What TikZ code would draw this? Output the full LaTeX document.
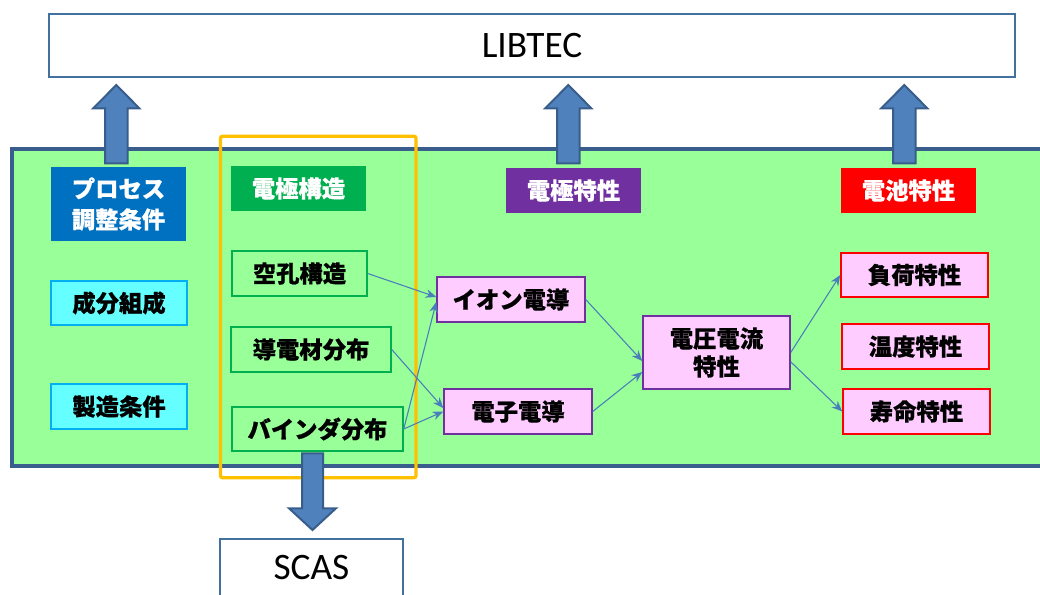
\documentclass[tikz,border=0pt]{standalone}
\usepackage{fontspec}
\setmainfont{Carlito}
\newfontfamily\jp{Noto Sans CJK JP}[BoldFeatures={FakeBold=0.6}]
\usetikzlibrary{arrows.meta}
\definecolor{panelg}{HTML}{99FF99}
\definecolor{panelb}{HTML}{395E8D}
\definecolor{boxb}{HTML}{41719C}
\definecolor{arrfill}{HTML}{4F81BD}
\definecolor{arrdraw}{HTML}{385D8A}
\definecolor{orng}{HTML}{FFC000}
\definecolor{cyanf}{HTML}{66FFFF}
\definecolor{cyand}{HTML}{00B0F0}
\definecolor{gdraw}{HTML}{00B050}
\definecolor{pinkf}{HTML}{FFCCFF}
\definecolor{purp}{HTML}{7030A0}
\definecolor{hblue}{HTML}{0070C0}
\definecolor{thin}{HTML}{4A7EBB}
\begin{document}
\begin{tikzpicture}[x=0.75pt,y=-0.75pt,
  sz/.style 2 args={minimum width=#1*0.75pt, minimum height=#2*0.75pt, inner sep=0pt},
  jptext/.style={font=\jp\bfseries\fontsize{17.5}{20}\selectfont, align=center},
  hdr/.style={jptext, text=white, fill=#1},
  cyanbox/.style={jptext, fill=cyanf, draw=cyand, line width=1.1pt},
  gbox/.style={jptext, fill=panelg, draw=gdraw, line width=1.1pt},
  pbox/.style={jptext, fill=pinkf, draw=purp, line width=1.1pt},
  rbox/.style={jptext, fill=pinkf, draw=red, line width=1.1pt},
  wbox/.style={fill=white, draw=boxb, line width=1.1pt, font=\fontsize{28}{32}\selectfont},
  bigarrow/.style={fill=arrfill, draw=arrdraw, line width=1.5pt, line join=miter},
  conn/.style={draw=thin, line width=0.8pt, -{Stealth[length=8pt,width=6.5pt]}}
]
\useasboundingbox (0,0) rectangle (1040,595);

% top box
\node[wbox, sz={966}{63}] (libtec) at (532,45.5) {LIBTEC};

% green panel
\draw[fill=panelg, draw=panelb, line width=3pt] (12,148.7) rectangle (1060,466);

% up arrows
\foreach \cx in {116.3,568.3,904.3}{
  \draw[bigarrow] (\cx,85) -- (\cx+23,108.3) -- (\cx+11.2,108.3) -- (\cx+11.2,163.3)
     -- (\cx-11.2,163.3) -- (\cx-11.2,108.3) -- (\cx-23,108.3) -- cycle;
}

% headers
\node[hdr=hblue, sz={135}{74}] (proc) at (118.5,204) {プロセス\\[3pt]調整条件};
\node[hdr=gdraw, sz={135}{45}] (kozo) at (298.5,188.5) {電極構造};
\node[hdr=purp, sz={135}{45}] (tok) at (573.5,190.5) {電極特性};
\node[hdr=red, sz={135}{45}] (denchi) at (908.5,190.5) {電池特性};

% left column
\node[cyanbox, sz={136}{44}] (seibun) at (119,303) {成分組成};
\node[cyanbox, sz={136}{45}] (seizo) at (119,406.5) {製造条件};

% electrode structure
\node[gbox, sz={135}{45}] (kuko) at (299.5,273.5) {空孔構造};
\node[gbox, sz={160}{45}] (doden) at (311,349.5) {導電材分布};
\node[gbox, sz={171}{44}] (binder) at (317.5,429) {バインダ分布};

% electrode characteristics
\node[pbox, sz={148}{45}] (ion) at (511,299.5) {イオン電導};
\node[pbox, sz={148}{45}] (elec) at (518,411.5) {電子電導};
\node[pbox, sz={147}{73}] (volt) at (716.5,352.5) {電圧電流\\[1pt]特性};

% battery characteristics
\node[rbox, sz={147}{44}] (load) at (914.5,275) {負荷特性};
\node[rbox, sz={147}{45}] (temp) at (915.5,346.5) {温度特性};
\node[rbox, sz={147}{45}] (life) at (916.5,411.5) {寿命特性};

% orange frame
\draw[orng, line width=2.5pt, rounded corners=1.5pt] (220.5,136.3) rectangle (416,477.7);

% down arrow
\draw[bigarrow] (302,453.3) -- (323,453.3) -- (323,508.3) -- (336,508.3) -- (312.5,530)
   -- (289,508.3) -- (302,508.3) -- cycle;

% bottom box
\node[wbox, sz={183}{58}] (scas) at (311.5,568) {SCAS};

% connectors
\draw[conn] (kuko.east) -- ([yshift=1.9pt]ion.west);
\draw[conn] (binder.east) -- ([yshift=-1.9pt]ion.west);
\draw[conn] (doden.east) -- ([yshift=2.6pt]elec.west);
\draw[conn] (binder.east) -- (elec.west);
\draw[conn] (ion.east) -- ([yshift=-6.4pt]volt.west);
\draw[conn] (elec.east) -- ([yshift=-14.6pt]volt.west);
\draw[conn] (volt.east) -- (load.west);
\draw[conn] ([yshift=-7pt]volt.east) -- (life.west);
\end{tikzpicture}
\end{document}
